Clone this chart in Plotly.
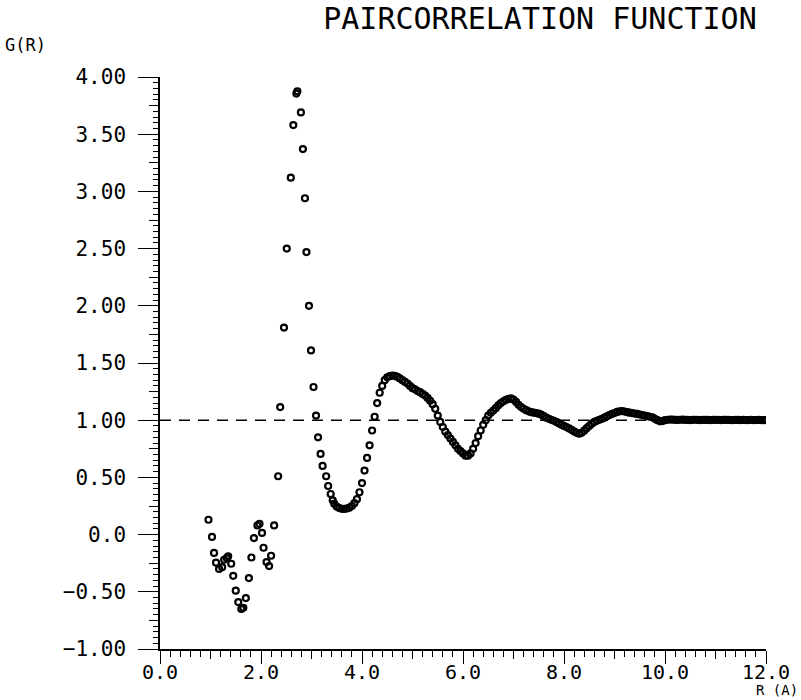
import plotly.graph_objects as go

# ---- data ----
r_first = [0.96, 1.03, 1.07, 1.11, 1.17, 1.23, 1.27, 1.32, 1.35, 1.41, 1.45, 1.50, 1.55, 1.61,
           1.65, 1.70, 1.76, 1.81, 1.86, 1.93, 1.97, 2.02, 2.05, 2.11, 2.16, 2.20, 2.26, 2.34,
           2.38, 2.455, 2.51, 2.59, 2.64, 2.70, 2.72, 2.79, 2.83, 2.87, 2.90, 2.95, 2.99, 3.04,
           3.09, 3.13, 3.18, 3.22, 3.29, 3.33, 3.38, 3.42]
g_first = [0.13, -0.02, -0.16, -0.245, -0.30, -0.285, -0.22, -0.205, -0.19, -0.255, -0.36, -0.49,
           -0.59, -0.65, -0.64, -0.555, -0.38, -0.20, -0.03, 0.08, 0.095, 0.015, -0.115, -0.24,
           -0.275, -0.185, 0.08, 0.51, 1.115, 1.81, 2.50, 3.12, 3.58, 3.855, 3.875, 3.69, 3.37,
           2.94, 2.47, 2.00, 1.61, 1.29, 1.04, 0.85, 0.705, 0.60, 0.51, 0.425, 0.355, 0.30]

r_tail = [3.45, 3.50, 3.55, 3.60, 3.65, 3.70, 3.75, 3.80, 3.85, 3.90, 3.95,
          4.00, 4.05, 4.10, 4.15, 4.20, 4.25, 4.30, 4.35, 4.40, 4.45, 4.50, 4.55, 4.60, 4.65,
          4.70, 4.75, 4.80, 4.85, 4.90, 4.95,
          5.00, 5.05, 5.10, 5.15, 5.20, 5.25, 5.30, 5.35, 5.40, 5.45, 5.50, 5.55, 5.60, 5.65,
          5.70, 5.75, 5.80, 5.85, 5.90, 5.95,
          6.00, 6.05, 6.10, 6.15, 6.20, 6.25, 6.30, 6.35, 6.40, 6.45, 6.50, 6.55, 6.60, 6.65,
          6.70, 6.75, 6.80, 6.85, 6.90, 6.95,
          7.00, 7.05, 7.10, 7.15, 7.20, 7.25, 7.30, 7.35, 7.40, 7.45, 7.50, 7.55, 7.60, 7.65,
          7.70, 7.75, 7.80, 7.85, 7.90, 7.95,
          8.00, 8.05, 8.10, 8.15, 8.20, 8.25, 8.30, 8.35, 8.40, 8.45, 8.50, 8.55, 8.60, 8.65,
          8.70, 8.75, 8.80, 8.85, 8.90, 8.95,
          9.00, 9.05, 9.10, 9.15, 9.20, 9.25, 9.30, 9.35, 9.40, 9.45, 9.50, 9.55, 9.60, 9.65,
          9.70, 9.75, 9.80, 9.85, 9.90, 9.95,
          10.00, 10.05, 10.10, 10.15, 10.20, 10.25, 10.30, 10.35, 10.40, 10.45, 10.50, 10.55,
          10.60, 10.65, 10.70, 10.75, 10.80, 10.85, 10.90, 10.95,
          11.00, 11.05, 11.10, 11.15, 11.20, 11.25, 11.30, 11.35, 11.40, 11.45, 11.50, 11.55,
          11.60, 11.65, 11.70, 11.75, 11.80, 11.85, 11.90, 11.95, 12.00]
g_tail = [0.27, 0.245, 0.232, 0.225, 0.224, 0.228, 0.236, 0.25, 0.275, 0.31, 0.37,
          0.45, 0.56, 0.67, 0.78, 0.91, 1.03, 1.15, 1.24, 1.30, 1.35, 1.375, 1.385, 1.39, 1.388,
          1.378, 1.365, 1.35, 1.335, 1.32, 1.30,
          1.28, 1.27, 1.255, 1.245, 1.23, 1.215, 1.195, 1.17, 1.14, 1.10, 1.04, 0.985, 0.94, 0.90,
          0.87, 0.84, 0.81, 0.78, 0.75, 0.73,
          0.71, 0.69, 0.69, 0.71, 0.75, 0.80, 0.86, 0.91, 0.96, 1.00, 1.04, 1.065, 1.085, 1.105,
          1.13, 1.15, 1.165, 1.178, 1.186, 1.19,
          1.18, 1.16, 1.135, 1.115, 1.10, 1.088, 1.078, 1.07, 1.066, 1.062, 1.057, 1.048, 1.035,
          1.022, 1.012, 1.003, 0.995, 0.985, 0.972, 0.96,
          0.95, 0.94, 0.928, 0.916, 0.902, 0.89, 0.882, 0.89, 0.908, 0.93, 0.95, 0.97, 0.985,
          0.995, 1.003, 1.012, 1.022, 1.034, 1.045, 1.055,
          1.063, 1.072, 1.078, 1.08, 1.076, 1.07, 1.066, 1.062, 1.058, 1.055, 1.05, 1.045, 1.04,
          1.035, 1.03, 1.025, 1.012, 1.0, 0.99, 0.992,
          1.0, 1.004, 1.006, 1.005, 1.003, 1.002, 1.004, 1.005, 1.003, 1.002, 1.001, 1.003,
          1.004, 1.002, 1.001, 1.002, 1.003, 1.002, 1.001, 1.002,
          1.003, 1.002, 1.001, 1.002, 1.003, 1.002, 1.001, 1.001, 1.002, 1.002, 1.001, 1.002,
          1.001, 1.001, 1.002, 1.001, 1.001, 1.002, 1.001, 1.001, 1.001]

ref_r = [0.0, 12.0]
ref_g = [1.0, 1.0]

x_tickvals = [0, 2, 4, 6, 8, 10, 12]
x_ticktext = ["0.0", "2.0", "4.0", "6.0", "8.0", "10.0", "12.0"]
x_midvals = [1, 3, 5, 7, 9, 11]
y_tickvals = [-1.0, -0.5, 0.0, 0.5, 1.0, 1.5, 2.0, 2.5, 3.0, 3.5, 4.0]
y_ticktext = ["\u22121.00", "\u22120.50", "0.0", "0.50", "1.00", "1.50", "2.00",
              "2.50", "3.00", "3.50", "4.00"]
y_midvals = [-0.75, -0.25, 0.25, 0.75, 1.25, 1.75, 2.25, 2.75, 3.25, 3.75]

FONT = "DejaVu Sans Mono"
INK = "#000000"

fig = go.Figure()

# dashed reference line (on overlay axes, which also carry the medium ticks)
fig.add_trace(go.Scatter(x=ref_r, y=ref_g, mode="lines", xaxis="x2", yaxis="y2",
                         line=dict(color=INK, width=1.5, dash="11px,8px"),
                         hoverinfo="skip", showlegend=False))

marker = dict(symbol="circle-open", size=6, color=INK, line=dict(width=2.2, color=INK))
fig.add_trace(go.Scatter(x=r_first, y=g_first, mode="markers", marker=marker, showlegend=False))
fig.add_trace(go.Scatter(x=r_tail, y=g_tail, mode="markers", marker=marker, showlegend=False))

fig.update_layout(
    width=801, height=700,
    margin=dict(l=160, r=35, t=77, b=51),
    paper_bgcolor="white", plot_bgcolor="white",
    font=dict(family=FONT, color=INK),
    title=dict(text="PAIRCORRELATION FUNCTION", x=540 / 801, xanchor="center",
               y=1 - 18 / 700, yanchor="middle", xref="container", yref="container",
               font=dict(family=FONT, size=30, color=INK)),
    xaxis=dict(range=[0, 12], showgrid=False, zeroline=False, showline=True, automargin=False,
               linecolor=INK, linewidth=1.5, ticks="outside", ticklen=13, tickwidth=1.3,
               tickcolor=INK, tickmode="array", tickvals=x_tickvals, ticktext=x_ticktext,
               tickfont=dict(family=FONT, size=20, color=INK), ticklabelstandoff=-9,
               minor=dict(dtick=0.2, tick0=0, ticks="outside", ticklen=6, tickwidth=1,
                          tickcolor=INK, showgrid=False)),
    yaxis=dict(range=[-1, 4], showgrid=False, zeroline=False, showline=True, automargin=False,
               linecolor=INK, linewidth=1.5, ticks="outside", ticklen=20, tickwidth=1.3,
               tickcolor=INK, tickmode="array", tickvals=y_tickvals, ticktext=y_ticktext,
               tickfont=dict(family=FONT, size=21, color=INK), ticklabelstandoff=8,
               minor=dict(dtick=0.05, tick0=0, ticks="outside", ticklen=5, tickwidth=1,
                          tickcolor=INK, showgrid=False)),
    xaxis2=dict(range=[0, 12], overlaying="x", side="bottom", showgrid=False, automargin=False,
                zeroline=False, showline=False, ticks="outside", ticklen=9, tickwidth=1,
                tickcolor=INK, tickmode="array", tickvals=x_midvals, showticklabels=False),
    yaxis2=dict(range=[-1, 4], overlaying="y", side="left", showgrid=False, automargin=False,
                zeroline=False, showline=False, ticks="outside", ticklen=10, tickwidth=1,
                tickcolor=INK, tickmode="array", tickvals=y_midvals, showticklabels=False),
    annotations=[
        dict(text="G(R)", xref="paper", yref="paper", x=(3 - 160) / 606, y=(649 - 45) / 572,
             xanchor="left", yanchor="middle", showarrow=False,
             font=dict(family=FONT, size=17, color=INK)),
        dict(text="R (A)", xref="paper", yref="paper", x=(800 - 160) / 606,
             y=(649 - 690) / 572, xanchor="right", yanchor="middle", showarrow=False,
             font=dict(family=FONT, size=14, color=INK)),
    ],
)

fig.write_html("out.html")
